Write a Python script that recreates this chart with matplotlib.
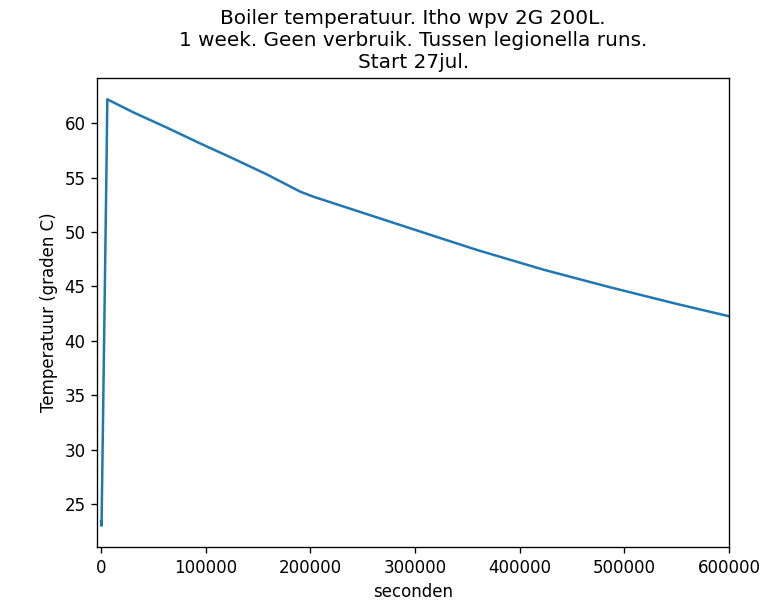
import matplotlib
matplotlib.use("Agg")
import matplotlib.pyplot as plt

# --- Data --------------------------------------------------------------------
seconden = [0, 500, 5200, 6000, 30900, 62800, 94600, 126400, 158300, 190100,
            202800, 228300, 276100, 323900, 358900, 422600, 486300, 550000,
            599300]
temperatuur = [23.4, 23.0, 55.9, 62.2, 61.0, 59.6, 58.15, 56.75, 55.3, 53.72,
               53.25, 52.45, 50.95, 49.45, 48.36, 46.54, 44.92, 43.39, 42.27]

TITLE = ("Boiler temperatuur. Itho wpv 2G 200L.\n"
         "1 week. Geen verbruik. Tussen legionella runs.\n"
         "Start 27jul.")

# --- Plot --------------------------------------------------------------------
fig = plt.figure(figsize=(774 / 120, 607 / 120), dpi=120)
ax = fig.add_axes([0.1258, 0.0988, 0.942 - 0.1258, 0.8715 - 0.0988])
ax.plot(seconden, temperatuur)
ax.set_xlim(-3500, 600000)
ax.set_xlabel("seconden")
ax.set_ylabel("Temperatuur (graden C)")
ax.set_title(TITLE)

fig.savefig("out.png", dpi=120)
plt.close(fig)
